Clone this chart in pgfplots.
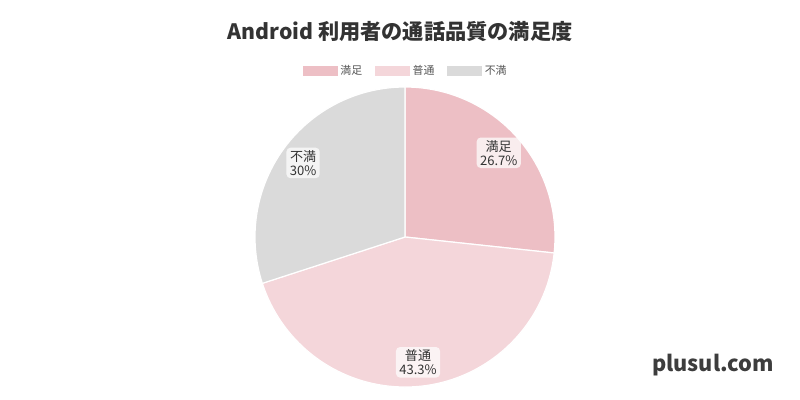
\documentclass[border=0pt]{standalone}
\usepackage{pgfplots}
\pgfplotsset{compat=1.18}
\usetikzlibrary{calc}
\usepackage{fontspec}
\setmainfont{Noto Sans CJK JP}

\definecolor{manzoku}{HTML}{EDBFC5}
\definecolor{futsu}{HTML}{F4D6DA}
\definecolor{fuman}{HTML}{DADADA}
\definecolor{txt}{HTML}{333333}
\definecolor{legtxt}{HTML}{555555}

% slice values (percent), clockwise from 12 o'clock
\def\vA{26.7}
\def\vB{43.3}
\def\vC{30}
\pgfmathsetmacro\aA{90}
\pgfmathsetmacro\aB{\aA-3.6*\vA}
\pgfmathsetmacro\aC{\aB-3.6*\vB}
\pgfmathsetmacro\aD{\aC-3.6*\vC}
\pgfmathsetmacro\mA{(\aA+\aB)/2}
\pgfmathsetmacro\mB{(\aB+\aC)/2}
\pgfmathsetmacro\mC{(\aC+\aD)/2}

% 1px = 0.75pt
\def\R{112.5pt}
\def\L{94.5pt}

\begin{document}
\begin{tikzpicture}
\begin{axis}[
    scale only axis,
    width=600pt, height=300pt,
    xmin=0, xmax=800, ymin=-400, ymax=0,
    hide axis, clip=false,
    legend columns=3,
    legend style={draw=none, fill=none, at={(axis cs:406,-71)}, anchor=center,
        font=\fontsize{8.2}{9}\selectfont, text=legtxt, inner sep=0pt,
        /tikz/every odd column/.append style={column sep=0pt},
        /tikz/every even column/.append style={column sep=7.5pt}},
    legend image code/.code={\fill[#1] (0pt,-3.4pt) rectangle (26.25pt,3.4pt);},
    legend cell align=left,
]
\addlegendimage{fill=manzoku, draw=none}
\addlegendentry{満足}
\addlegendimage{fill=futsu, draw=none}
\addlegendentry{普通}
\addlegendimage{fill=fuman, draw=none}
\addlegendentry{不満}

% page frame (sets the bounding box)
\path (axis cs:0,0) rectangle (axis cs:800,-400);

\fill[manzoku, draw=white, line width=0.9pt] (axis cs:405,-237) -- ++(\aA:\R)
    arc[start angle=\aA, end angle=\aB, radius=\R] -- cycle;
\fill[futsu, draw=white, line width=0.9pt] (axis cs:405,-237) -- ++(\aB:\R)
    arc[start angle=\aB, end angle=\aC, radius=\R] -- cycle;
\fill[fuman, draw=white, line width=0.9pt] (axis cs:405,-237) -- ++(\aC:\R)
    arc[start angle=\aC, end angle=\aD, radius=\R] -- cycle;

\tikzset{lbl/.style={fill=white, fill opacity=0.72, text opacity=1, text=txt,
    rounded corners=3pt, inner xsep=2.5pt, inner ysep=2pt, align=center,
    font=\fontsize{9.8}{10.5}\selectfont}}
\node[lbl] at ($(axis cs:405,-237)+(\mA:\L)$) {満足\\26.7\%};
\node[lbl] at ($(axis cs:405,-237)+(\mB:\L)$) {普通\\43.3\%};
\node[lbl] at ($(axis cs:405,-237)+(\mC:\L)$) {不満\\30\%};

\node[text=txt, font=\bfseries\fontsize{15.9}{18}\selectfont] at (axis cs:400,-32)
    {Android 利用者の通話品質の満足度};
\node[text=txt!95, font=\bfseries\fontsize{16.3}{18}\selectfont] at (axis cs:713,-365)
    {plusul.com};
\end{axis}
\end{tikzpicture}
\end{document}
